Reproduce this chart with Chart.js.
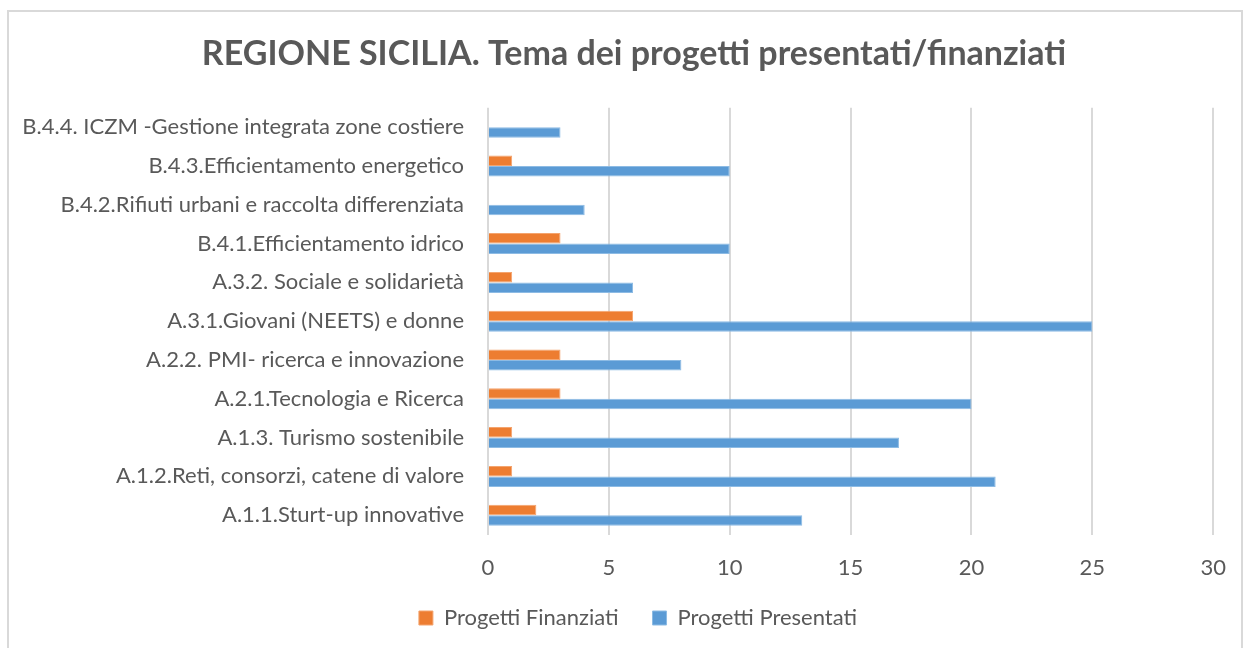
<!DOCTYPE html>
<html>
<head>
<meta charset="utf-8">
<script src="https://cdn.jsdelivr.net/npm/chart.js@4"></script>
<style>
  html, body { margin: 0; padding: 0; background: #fff; }
  #frame { position: absolute; left: 7px; top: 10px; width: 1236px; height: 660px; border: 2px solid #d9d9d9; box-sizing: border-box; }
  #chart { position: absolute; left: 0; top: 0; }
</style>
</head>
<body>
<div id="frame"></div>
<canvas id="chart" width="1246" height="648"></canvas>
<script>
const categories = [
  "B.4.4. ICZM -Gestione integrata zone costiere",
  "B.4.3.Efficientamento energetico",
  "B.4.2.Rifiuti urbani e raccolta differenziata",
  "B.4.1.Efficientamento idrico",
  "A.3.2. Sociale e solidarietà",
  "A.3.1.Giovani (NEETS) e donne",
  "A.2.2. PMI- ricerca e innovazione",
  "A.2.1.Tecnologia e Ricerca",
  "A.1.3. Turismo sostenibile",
  "A.1.2.Reti, consorzi, catene di valore",
  "A.1.1.Sturt-up innovative"
];
const finanziati = [0, 1, 0, 3, 1, 6, 3, 3, 1, 1, 2];
const presentati = [3, 10, 4, 10, 6, 25, 8, 20, 17, 21, 13];

const textColor = "#595959";
const fontFamily = "Lato, 'Open Sans', sans-serif";

// nudge title and legend to where they sit in the original
const nudge = {
  id: "nudge",
  afterLayout(chart) {
    if (chart.titleBlock) chart.titleBlock.left += 28;
    const lg = chart.legend;
    if (lg) {
      lg.top -= 28; lg.bottom -= 28;
      lg.left += 18; lg.right += 18;
    }
  }
};

const ctx = document.getElementById("chart").getContext("2d");
new Chart(ctx, {
  type: "bar",
  data: {
    labels: categories,
    datasets: [
      { label: "Progetti Finanziati", data: finanziati, backgroundColor: "#ED7D31", borderColor: "#F4A46E", borderWidth: 1 },
      { label: "Progetti Presentati", data: presentati, backgroundColor: "#5B9BD5", borderColor: "#8DBBE4", borderWidth: 1 }
    ]
  },
  options: {
    indexAxis: "y",
    responsive: false,
    animation: false,
    devicePixelRatio: 1,
    layout: { padding: { left: 20, right: 26, top: 0, bottom: -19 } },
    datasets: { bar: { barPercentage: 1, categoryPercentage: 0.54 } },
    scales: {
      x: {
        min: 0, max: 30,
        ticks: { stepSize: 5, color: textColor, font: { family: fontFamily, size: 22 }, padding: 20 },
        grid: { color: "#d9d9d9", lineWidth: 2, drawTicks: false },
        border: { display: false }
      },
      y: {
        ticks: { color: textColor, font: { family: fontFamily, size: 22 }, padding: 16, autoSkip: false },
        grid: { display: false },
        border: { display: false },
        afterFit: s => { s.width = 468; }
      }
    },
    plugins: {
      title: {
        display: true,
        text: "REGIONE SICILIA. Tema dei progetti presentati/finanziati",
        color: textColor,
        font: { family: fontFamily, size: 34, weight: "bold" },
        padding: { top: 34, bottom: 33 }
      },
      legend: {
        position: "bottom",
        labels: { color: textColor, font: { family: fontFamily, size: 22 }, boxWidth: 14, boxHeight: 14, padding: 34 }
      },
      tooltip: { enabled: false }
    }
  },
  plugins: [nudge]
});
</script>
</body>
</html>
